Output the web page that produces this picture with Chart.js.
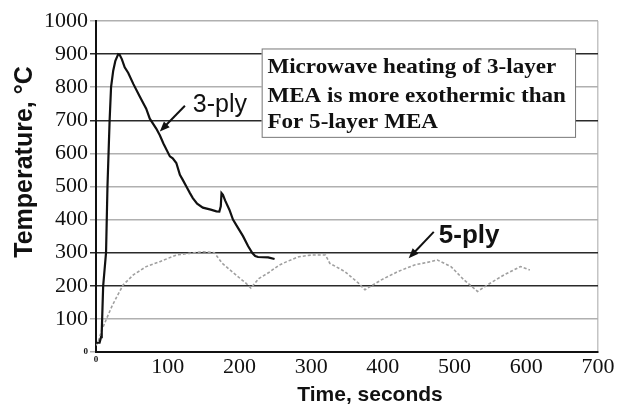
<!DOCTYPE html>
<html lang="en">
<head>
    <meta charset="UTF-8">
    <script src="https://cdn.jsdelivr.net/npm/chart.js"></script>
    <title>Microwave heating of MEA</title>
    <style>
        body {
            margin: 0;
            background-color: #fff;
        }

        #wrap {
            width: 622px;
            height: 404px;
        }
    </style>
</head>
<body>
    <div id="wrap"><canvas id="heatChart"></canvas></div>

    <script>
        // 3-ply (3-layer MEA) run, seconds / degrees C
        const time3 = [0, 5, 7, 8, 10, 12, 14, 16, 19, 21, 24, 27, 31, 33, 36, 40, 45, 52, 61, 70, 75, 84, 89, 94, 103, 107, 112, 117, 121, 126, 131, 135, 141, 149, 160, 168, 172, 174, 175, 177, 180, 186, 191, 198, 205, 212, 218, 222, 226, 240, 249];
        const temp3 = [28, 28, 45, 60, 200, 250, 300, 500, 700, 800, 850, 880, 900, 898, 885, 860, 843, 810, 772, 735, 705, 675, 655, 630, 591, 585, 571, 535, 520, 500, 480, 465, 448, 436, 430, 425, 424, 440, 480, 475, 458, 430, 400, 375, 350, 320, 299, 290, 287, 286, 281];

        // 5-ply (5-layer MEA) run
        const time5 = [0, 3, 8, 15, 22, 29, 38, 52, 70, 89, 112, 130, 149, 165, 176, 195, 209, 216, 227, 241, 255, 266, 283, 301, 320, 326, 347, 366, 375, 398, 421, 444, 467, 476, 495, 513, 532, 546, 569, 592, 605];
        const temp5 = [20, 30, 66, 102, 137, 167, 203, 233, 258, 273, 293, 298, 303, 300, 268, 233, 208, 193, 222, 240, 262, 273, 288, 293, 293, 268, 243, 208, 188, 218, 243, 263, 273, 278, 258, 218, 183, 203, 233, 258, 248];

        const xTicks = [0, 100, 200, 300, 400, 500, 600, 700];
        const yTicks = [0, 100, 200, 300, 400, 500, 600, 700, 800, 900, 1000];
        const darkRows = [200, 300, 700, 900];

        const noteLines = ['Microwave heating of 3-layer', 'MEA is more exothermic than', 'For 5-layer MEA'];

        function toPoints(xs, ys) {
            return xs.map((t, i) => ({ x: t, y: ys[i] }));
        }

        function tickFont(c) {
            return c.tick && c.tick.value === 0
                ? { family: 'Liberation Serif', size: 9, weight: 'bold' }
                : { family: 'Liberation Serif', size: 22 };
        }

        // text drawn a little wider than the font, like the scanned original
        function wideText(ctx, text, px, py, sx) {
            ctx.save();
            ctx.translate(px, py);
            ctx.scale(sx, 1);
            ctx.fillText(text, 0, 0);
            ctx.restore();
        }

        function drawArrow(ctx, x1, y1, x2, y2) {
            const ang = Math.atan2(y2 - y1, x2 - x1);
            const len = 10, half = 4;
            ctx.beginPath();
            ctx.moveTo(x1, y1);
            ctx.lineTo(x2 - Math.cos(ang) * len * 0.8, y2 - Math.sin(ang) * len * 0.8);
            ctx.strokeStyle = '#111';
            ctx.lineWidth = 2;
            ctx.stroke();
            ctx.beginPath();
            ctx.moveTo(x2, y2);
            ctx.lineTo(x2 - Math.cos(ang) * len - Math.sin(ang) * half, y2 - Math.sin(ang) * len + Math.cos(ang) * half);
            ctx.lineTo(x2 - Math.cos(ang) * len + Math.sin(ang) * half, y2 - Math.sin(ang) * len - Math.cos(ang) * half);
            ctx.closePath();
            ctx.fillStyle = '#111';
            ctx.fill();
        }

        // labels, arrows, note box and axis titles
        const overlay = {
            id: 'overlay',
            afterDraw(chart) {
                const { ctx, scales: { x, y } } = chart;
                ctx.save();

                // note box
                const bx = x.getPixelForValue(231), by = y.getPixelForValue(917);
                const bw = x.getPixelForValue(668) - bx, bh = y.getPixelForValue(650) - by;
                ctx.fillStyle = '#fff';
                ctx.fillRect(bx, by, bw, bh);
                ctx.strokeStyle = '#777';
                ctx.lineWidth = 1;
                ctx.strokeRect(bx + 0.5, by + 0.5, bw, bh);
                ctx.fillStyle = '#111';
                ctx.font = 'bold 21px "Liberation Serif"';
                ctx.textBaseline = 'alphabetic';
                ctx.textAlign = 'left';
                [844, 756, 678].forEach((v, i) => {
                    wideText(ctx, noteLines[i], x.getPixelForValue(239), y.getPixelForValue(v), 1.1);
                });

                // series labels
                ctx.font = '25px "Liberation Sans"';
                ctx.fillText('3-ply', x.getPixelForValue(135), y.getPixelForValue(726));
                drawArrow(ctx, x.getPixelForValue(124), y.getPixelForValue(744), x.getPixelForValue(89), y.getPixelForValue(666));

                ctx.fillStyle = '#111';
                ctx.font = 'bold 26px "Liberation Sans"';
                ctx.fillText('5-ply', x.getPixelForValue(478), y.getPixelForValue(330));
                drawArrow(ctx, x.getPixelForValue(471), y.getPixelForValue(363), x.getPixelForValue(436), y.getPixelForValue(283));

                // axis titles
                ctx.fillStyle = '#111';
                ctx.font = 'bold 21px "Liberation Sans"';
                ctx.textAlign = 'center';
                ctx.textBaseline = 'middle';
                ctx.fillText('Time, seconds', 370, 395);

                ctx.translate(25, 162);
                ctx.rotate(-Math.PI / 2);
                ctx.font = 'bold 25px "Liberation Sans"';
                ctx.fillText('Temperature, \u00B0C', 0, 0);
                ctx.restore();
            }
        };

        const ctx = document.getElementById('heatChart').getContext('2d');
        const heatChart = new Chart(ctx, {
            type: 'line',
            data: {
                datasets: [{
                    label: '3-ply',
                    data: toPoints(time3, temp3),
                    borderColor: '#111',
                    borderWidth: 2.2,
                    pointRadius: 0,
                    tension: 0
                }, {
                    label: '5-ply',
                    data: toPoints(time5, temp5),
                    borderColor: '#a0a0a0',
                    borderWidth: 1.6,
                    borderDash: [3, 2],
                    pointRadius: 0,
                    tension: 0
                }]
            },
            options: {
                responsive: true,
                maintainAspectRatio: false,
                animation: false,
                layout: { padding: { top: 21, right: 24, bottom: 0, left: 0 } },
                plugins: {
                    legend: { display: false },
                    tooltip: { enabled: false }
                },
                scales: {
                    x: {
                        type: 'linear',
                        min: 0,
                        max: 700,
                        afterFit: (s) => { s.height = 52; },
                        afterBuildTicks: (s) => { s.ticks = xTicks.map(v => ({ value: v })); },
                        border: { display: true, color: '#111', width: 2 },
                        grid: {
                            drawTicks: false,
                            color: (c) => c.tick && c.tick.value === 700 ? '#c4c4c4' : 'rgba(0,0,0,0)',
                            lineWidth: 1.5
                        },
                        ticks: {
                            padding: 2,
                            color: '#111',
                            maxRotation: 0,
                            callback: (v) => String(v),
                            font: tickFont
                        }
                    },
                    y: {
                        min: 0,
                        max: 1000,
                        afterFit: (s) => { s.width = 96; },
                        afterBuildTicks: (s) => { s.ticks = yTicks.map(v => ({ value: v })); },
                        border: { display: true, color: '#111', width: 2 },
                        grid: {
                            tickLength: 6,
                            color: (c) => darkRows.includes(c.tick.value) ? '#2a2a2a' : '#b0b0b0',
                            lineWidth: 1.5
                        },
                        ticks: {
                            padding: 2,
                            color: '#111',
                            callback: (v) => String(v),
                            font: tickFont
                        }
                    }
                }
            },
            plugins: [overlay]
        });
    </script>
</body>
</html>
